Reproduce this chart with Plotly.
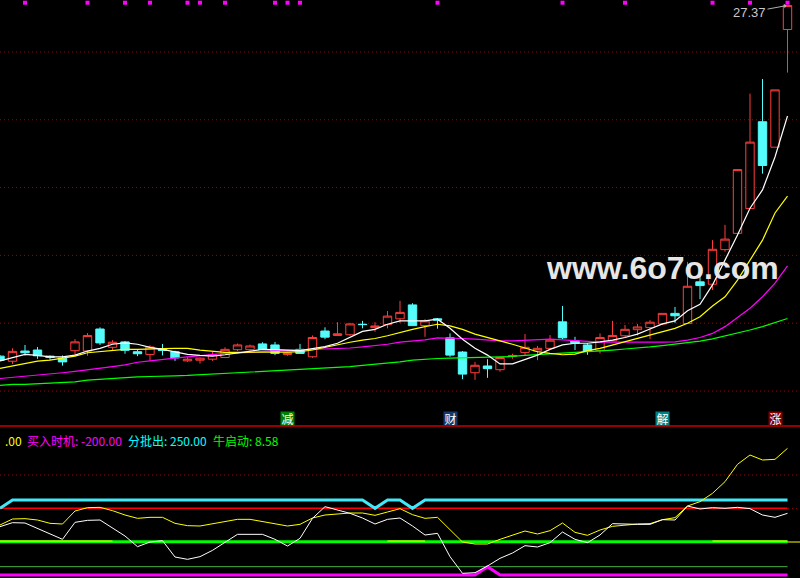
import plotly.graph_objects as go

# ---- main panel: daily candles (price) ----
idx = list(range(64))

opens = [17.03, 16.88, 17.18, 17.21, 17.03, 16.97, 17.19, 17.18, 17.83, 17.29,
         17.45, 17.16, 17.08, 17.23, 17.16, 16.89, 16.91, 16.94, 16.99, 17.22,
         17.22, 17.39, 17.36, 17.08, 17.23, 17.01, 17.77, 17.64, 17.66, 17.97,
         17.87, 17.96, 18.13, 18.54, 17.93, 18.13, 17.57, 17.15, 16.54, 16.74,
         16.63, 17.02, 17.14, 17.18, 17.26, 18.04, 17.48, 17.36, 17.19, 17.48,
         17.63, 17.81, 17.87, 17.98, 18.29, 17.99, 19.22, 19.15, 20.17, 20.65,
         21.38, 23.94, 23.19, 26.66]
highs = [17.06, 17.26, 17.36, 17.30, 17.05, 17.05, 17.53, 17.71, 17.88, 17.50,
         17.48, 17.21, 17.35, 17.39, 17.19, 17.00, 16.99, 17.15, 17.29, 17.40,
         17.37, 17.44, 17.45, 17.16, 17.39, 17.64, 17.88, 18.03, 18.01, 18.07,
         18.03, 18.36, 18.66, 18.59, 18.12, 18.15, 17.70, 17.18, 16.86, 16.94,
         17.01, 17.10, 17.68, 17.33, 17.65, 18.51, 17.60, 17.41, 17.70, 18.07,
         17.95, 17.98, 18.09, 18.29, 18.48, 19.81, 19.52, 20.45, 20.90, 22.53,
         24.77, 25.20, 24.88, 27.37]
lows = [16.88, 16.80, 17.05, 16.95, 16.92, 16.75, 17.06, 17.04, 17.36, 17.20,
        17.10, 17.03, 16.89, 17.05, 16.89, 16.86, 16.81, 16.89, 16.97, 17.18,
        17.19, 17.21, 17.06, 17.04, 17.11, 16.98, 17.53, 17.64, 17.63, 17.85,
        17.75, 17.85, 18.01, 17.92, 17.60, 17.84, 17.01, 16.35, 16.33, 16.39,
        16.57, 16.95, 17.03, 16.91, 17.24, 17.53, 17.21, 17.07, 17.11, 17.48,
        17.58, 17.64, 17.53, 17.95, 18.01, 17.99, 18.71, 18.98, 20.11, 20.57,
        21.38, 22.41, 23.19, 25.39]
closes = [16.91, 17.17, 17.13, 17.04, 16.99, 16.86, 17.45, 17.64, 17.42, 17.44,
          17.20, 17.10, 17.30, 17.20, 16.98, 16.94, 16.97, 17.08, 17.23, 17.36,
          17.33, 17.23, 17.11, 17.13, 17.11, 17.58, 17.59, 17.69, 17.98, 17.96,
          17.92, 18.21, 18.32, 17.93, 18.07, 18.09, 17.06, 16.50, 16.76, 16.66,
          16.99, 17.05, 17.29, 17.26, 17.50, 17.57, 17.41, 17.18, 17.58, 17.64,
          17.82, 17.89, 18.03, 18.29, 18.22, 19.09, 19.11, 20.18, 20.48, 22.53,
          23.34, 22.65, 24.88, 27.37]

# moving average lines
ma_white = [16.89, 16.98, 17.08, 17.05, 17.01, 17.01, 17.06, 17.18, 17.26, 17.38,
            17.42, 17.38, 17.29, 17.23, 17.16, 17.08, 17.05, 17.03, 17.07, 17.13,
            17.18, 17.23, 17.22, 17.20, 17.19, 17.25, 17.31, 17.41, 17.59, 17.76,
            17.82, 17.97, 18.07, 18.06, 18.07, 18.12, 17.85, 17.53, 17.26, 17.06,
            16.80, 16.80, 16.94, 17.06, 17.23, 17.36, 17.41, 17.41, 17.45, 17.50,
            17.58, 17.68, 17.83, 17.98, 18.07, 18.37, 18.56, 19.13, 19.86, 20.60,
            21.39, 21.93, 22.90, 24.11]
ma_yellow = [16.67, 16.74, 16.80, 16.88, 16.91, 16.96, 17.03, 17.13, 17.16, 17.20,
             17.23, 17.23, 17.25, 17.25, 17.26, 17.26, 17.21, 17.17, 17.14, 17.14,
             17.15, 17.15, 17.15, 17.15, 17.16, 17.21, 17.29, 17.38, 17.44, 17.50,
             17.55, 17.63, 17.73, 17.82, 17.90, 17.97, 17.92, 17.82, 17.68, 17.57,
             17.48, 17.38, 17.27, 17.16, 17.11, 17.07, 17.09, 17.19, 17.26, 17.36,
             17.45, 17.55, 17.65, 17.75, 17.85, 18.00, 18.19, 18.51, 18.78, 19.27,
             19.86, 20.45, 21.25, 21.75]
ma_magenta = [16.37, 16.40, 16.43, 16.47, 16.49, 16.54, 16.58, 16.62, 16.67, 16.72,
              16.77, 16.85, 16.89, 16.94, 16.97, 17.01, 17.05, 17.08, 17.11, 17.12,
              17.15, 17.17, 17.19, 17.20, 17.21, 17.23, 17.24, 17.25, 17.27, 17.30,
              17.33, 17.38, 17.44, 17.47, 17.51, 17.57, 17.57, 17.55, 17.53, 17.50,
              17.48, 17.48, 17.50, 17.50, 17.53, 17.51, 17.48, 17.45, 17.44, 17.44,
              17.44, 17.42, 17.42, 17.44, 17.45, 17.50, 17.58, 17.70, 17.90, 18.17,
              18.44, 18.78, 19.18, 19.69]
ma_green = [16.17, 16.20, 16.20, 16.22, 16.25, 16.25, 16.27, 16.32, 16.35, 16.36,
            16.40, 16.42, 16.43, 16.43, 16.45, 16.46, 16.48, 16.49, 16.51, 16.54,
            16.56, 16.58, 16.59, 16.61, 16.63, 16.65, 16.67, 16.68, 16.72, 16.76,
            16.79, 16.83, 16.86, 16.91, 16.94, 16.96, 16.97, 16.98, 16.99, 16.99,
            17.01, 17.02, 17.05, 17.07, 17.09, 17.11, 17.14, 17.16, 17.18, 17.21,
            17.24, 17.26, 17.30, 17.34, 17.38, 17.42, 17.47, 17.54, 17.62, 17.70,
            17.80, 17.90, 18.01, 18.14]

top_dots = [2, 7, 10, 12, 15, 16, 18, 22, 23, 24, 35, 45, 50, 57, 60, 63]
signal_idx = [23, 36, 53, 62]
signal_text = ["减", "财", "解", "涨"]
signal_bg = ["#008000", "#14386c", "#008080", "#800000"]
price_grid = [16, 18, 20, 22, 24, 26]

# ---- lower panel: indicator ----
line_white = [90, 114, 112, 80, 46, 14, 116, 128, 130, 82,
              34, -30, -2, 6, -92, -106, -90, -52, -6, 44,
              44, 44, 14, -26, 20, 140, 210, 188, 170, 142,
              106, 134, 142, 94, 40, 50, -90, -190, -186, -146,
              -100, -68, -24, -32, -6, 58, 14, -6, 40, 108,
              104, 104, 104, 132, 130, 214, 196, 204, 200, 206,
              198, 160, 146, 170]
line_yellow = [100, 136, 138, 130, 110, 106, 184, 204, 206, 186,
               160, 140, 146, 146, 110, 96, 94, 106, 122, 134,
               134, 122, 106, 94, 104, 142, 160, 168, 172, 172,
               158, 178, 198, 162, 140, 146, 70, -2, -14, -14,
               14, 38, 64, 46, 66, 112, 56, 38, 70, 92,
               100, 106, 108, 132, 144, 214, 240, 290, 360, 464,
               520, 490, 494, 560]
sell_line = [200, 250, 250, 250, 250, 250, 250, 250, 250, 250,
             250, 250, 250, 250, 250, 250, 250, 250, 250, 250,
             250, 250, 250, 250, 250, 250, 250, 250, 250, 250,
             200, 250, 250, 200, 250, 250, 250, 250, 250, 250,
             250, 250, 250, 250, 250, 250, 250, 250, 250, 250,
             250, 250, 250, 250, 250, 250, 250, 250, 250, 250,
             250, 250, 250, 250]
buy_line = [-200, -200, -200, -200, -200, -200, -200, -200, -200, -200,
            -200, -200, -200, -200, -200, -200, -200, -200, -200, -200,
            -200, -200, -200, -200, -200, -200, -200, -200, -200, -200,
            -200, -200, -200, -200, -200, -200, -200, -200, -200, -150,
            -200, -200, -200, -200, -200, -200, -200, -200, -200, -200,
            -200, -200, -200, -200, -200, -200, -200, -200, -200, -200,
            -200, -200, -200, -200]
yellow_flag = [4, 4, 4, 4, 4, 4, 4, 4, 4, 4,
               None, None, None, None, None, None, None, None, None, None,
               None, None, None, None, None, None, None, None, None, None,
               None, 4, 4, 4, 4, None, None, None, None, None,
               None, None, None, None, None, None, None, None, None, None,
               None, None, None, None, None, None, None, 4, 4, 4,
               4, 4, 4, 4]
red_level = 200
zero_level = 0
low_level = -150
ind_grid = [400, 200]

fig = go.Figure()

fig.add_trace(go.Candlestick(
    x=idx, open=opens, high=highs, low=lows, close=closes,
    increasing=dict(line=dict(color="#ff3c3c", width=1), fillcolor="#000000"),
    decreasing=dict(line=dict(color="#54fcfc", width=1), fillcolor="#54fcfc"),
    whiskerwidth=0, showlegend=False, xaxis="x", yaxis="y"))

for vals, col in [(ma_green, "#00ff00"), (ma_magenta, "#ff00ff"),
                  (ma_yellow, "#ffff00"), (ma_white, "#ffffff")]:
    fig.add_trace(go.Scatter(x=idx, y=vals, mode="lines",
                             line=dict(color=col, width=1.2),
                             showlegend=False, yaxis="y"))

fig.add_trace(go.Scatter(x=top_dots, y=[27.45] * len(top_dots), mode="markers",
                         marker=dict(symbol="square", size=4, color="#ff00ff"),
                         showlegend=False, yaxis="y"))

# indicator lines
first, last = idx[0], idx[-1]
fig.add_trace(go.Scatter(x=[first, last], y=[low_level, low_level], mode="lines",
                         line=dict(color="#40b040", width=1), showlegend=False, yaxis="y2"))
fig.add_trace(go.Scatter(x=[first, last], y=[red_level, red_level], mode="lines",
                         line=dict(color="#ff0000", width=1.5), showlegend=False, yaxis="y2"))
fig.add_trace(go.Scatter(x=[first, last], y=[zero_level, zero_level], mode="lines",
                         line=dict(color="#00ff00", width=3), showlegend=False, yaxis="y2"))
fig.add_trace(go.Scatter(x=idx, y=yellow_flag, mode="lines",
                         line=dict(color="#ffff00", width=1.2), showlegend=False, yaxis="y2"))
fig.add_trace(go.Scatter(x=idx, y=sell_line, mode="lines",
                         line=dict(color="#40e8f8", width=3), showlegend=False, yaxis="y2"))
fig.add_trace(go.Scatter(x=idx, y=buy_line, mode="lines",
                         line=dict(color="#ff00ff", width=3), showlegend=False, yaxis="y2"))
fig.add_trace(go.Scatter(x=idx, y=line_yellow, mode="lines",
                         line=dict(color="#ffff00", width=1), showlegend=False, yaxis="y2"))
fig.add_trace(go.Scatter(x=idx, y=line_white, mode="lines",
                         line=dict(color="#ffffff", width=1), showlegend=False, yaxis="y2"))

shapes = []
for g in price_grid:
    shapes.append(dict(type="line", xref="paper", x0=0, x1=1, yref="y", y0=g, y1=g,
                       line=dict(color="#a00000", width=1, dash="1px,3px"), layer="below"))
for g in ind_grid:
    shapes.append(dict(type="line", xref="paper", x0=0, x1=1, yref="y2", y0=g, y1=g,
                       line=dict(color="#a00000", width=1, dash="1px,3px"), layer="below"))
shapes.append(dict(type="line", xref="paper", x0=0, x1=1, yref="y2", y0=-2, y1=-2,
                   line=dict(color="#ffff00", width=1), layer="below"))
split = 152 / 578
shapes.append(dict(type="line", xref="paper", x0=0, x1=1, yref="paper", y0=split, y1=split,
                   line=dict(color="#c80000", width=1.5)))

ann = []
for i, t, bg in zip(signal_idx, signal_text, signal_bg):
    ann.append(dict(x=i, y=15.2, xref="x", yref="y", text=t, showarrow=False,
                    bgcolor=bg, width=13, height=13, borderpad=0,
                    font=dict(family="Noto Sans CJK SC", size=12, color="#ffffff")))

ann.append(dict(x=63, y=27.37, xref="x", yref="y", text="27.37", showarrow=True,
                ax=-38, ay=7, arrowcolor="#b0b0b0", arrowwidth=1, arrowhead=1,
                arrowsize=0.8, standoff=1,
                font=dict(family="Liberation Sans", size=13, color="#c8c8c8")))

ann.append(dict(x=662 / 800, y=1 - 268 / 578, xref="paper", yref="paper",
                xanchor="center", yanchor="middle",
                text="www.6o7o.com", showarrow=False,
                font=dict(family="Liberation Sans", size=32, color="#e6e6e6", weight="bold")))

legend_parts = [(".00", "#ffff00", 3),
                ("买入时机: %.2f" % -200, "#ff00ff", 25),
                ("分批出: %.2f" % 250, "#00ffff", 126),
                ("牛启动: %.2f" % 8.58, "#00ff00", 211)]
for txt, col, px in legend_parts:
    ann.append(dict(x=px / 800, y=610, xref="paper", yref="y2", text=txt,
                    showarrow=False, xanchor="left", yanchor="middle",
                    font=dict(family="Noto Sans CJK SC", size=12, color=col)))

fig.update_layout(
    width=800, height=578, margin=dict(l=0, r=0, t=0, b=0),
    paper_bgcolor="#000000", plot_bgcolor="#000000",
    boxgap=0.33, boxgroupgap=0, showlegend=False, shapes=shapes, annotations=ann,
    xaxis=dict(range=[0, 64], visible=False, rangeslider=dict(visible=False),
               showgrid=False, zeroline=False, anchor="y"),
    yaxis=dict(domain=[split, 1], range=[14.97, 27.53], visible=False,
               showgrid=False, zeroline=False),
    yaxis2=dict(domain=[0, split], range=[-218, 694], visible=False,
                showgrid=False, zeroline=False, anchor="x"),
)

# page body has an 8px default margin; drop it so the chart fills the window
fig.write_html("out.html", config={"displayModeBar": False},
               post_script="document.body.style.margin='0';document.body.style.background='#000';")
